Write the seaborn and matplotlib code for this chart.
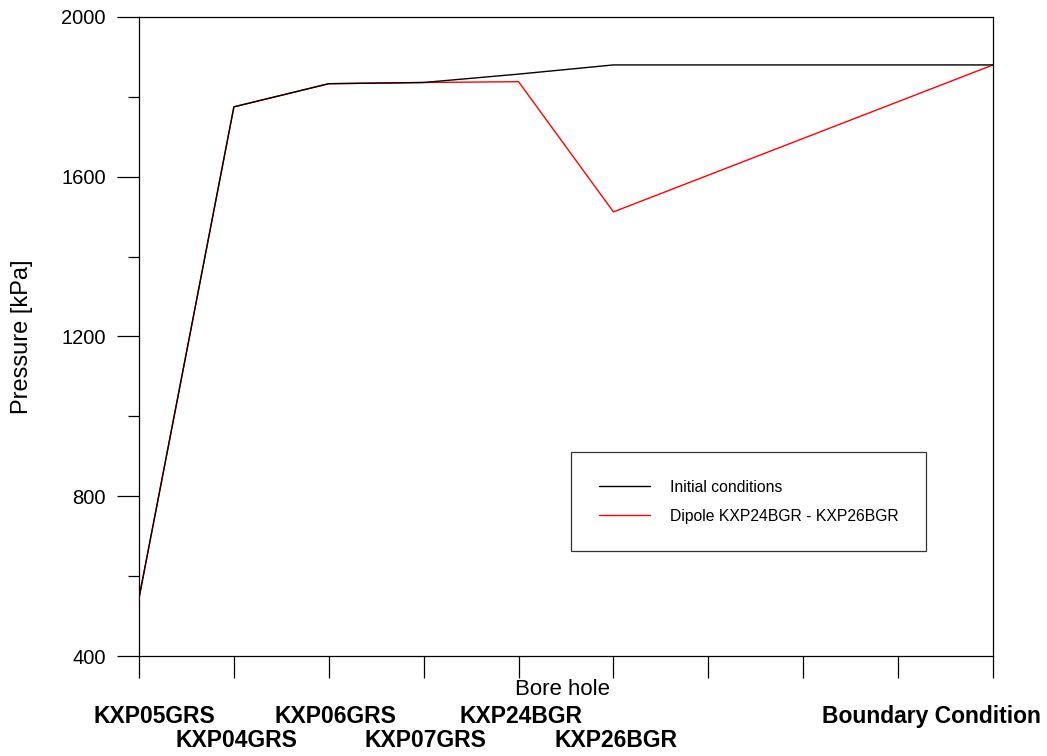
import matplotlib
matplotlib.use("Agg")
import matplotlib.pyplot as plt
from matplotlib.ticker import MultipleLocator
import numpy as np
import pandas as pd
import seaborn as sns

# Bore hole sequence (positions along the profile) and the labels shown under them
positions = [0, 1, 2, 3, 4, 5, 9]
boreholes = ["KXP05GRS", "KXP04GRS", "KXP06GRS", "KXP07GRS",
             "KXP24BGR", "KXP26BGR", "Boundary Condition"]

# Pressure [kPa] at each bore hole
initial_conditions = [545, 1775, 1833, 1836, 1857, 1880, 1880]
dipole = [545, 1775, 1833, 1836, 1838, 1512, 1880]

series_names = ["Initial conditions", "Dipole KXP24BGR - KXP26BGR"]

df = pd.DataFrame({
    "pos": positions * 2,
    "pressure": initial_conditions + dipole,
    "case": [series_names[0]] * len(positions) + [series_names[1]] * len(positions),
})

sns.set_style("white")
plt.rcParams["font.family"] = ["Liberation Sans", "DejaVu Sans"]
plt.rcParams["text.color"] = "black"
plt.rcParams["axes.labelcolor"] = "black"
plt.rcParams["xtick.color"] = "black"
plt.rcParams["ytick.color"] = "black"

fig = plt.figure(figsize=(10.47, 7.56), dpi=100)
ax = fig.add_axes([139 / 1047, 1 - 656 / 756, (993 - 139) / 1047, (656 - 17) / 756])

sns.lineplot(data=df, x="pos", y="pressure", hue="case", hue_order=series_names,
             palette=["#000000", "#ff0000"], sort=False, linewidth=1.0,
             estimator=None, ax=ax)

# keep the initial-condition curve on top where both coincide
ax.lines[0].set_zorder(4)
ax.lines[1].set_zorder(3)

ax.set_xlim(0, 9)
ax.set_ylim(400, 2000)
ax.set_xticks(np.arange(0, 10))
ax.set_xticklabels([])
ax.yaxis.set_major_locator(MultipleLocator(400))
ax.yaxis.set_minor_locator(MultipleLocator(200))

for side in ["left", "right", "top", "bottom"]:
    ax.spines[side].set_visible(True)
    ax.spines[side].set_color("black")
    ax.spines[side].set_linewidth(0.9)

ax.tick_params(axis="both", which="major", direction="out", length=16, width=0.9,
               color="black", bottom=True, left=True)
ax.tick_params(axis="y", which="minor", direction="out", length=8, width=0.9,
               color="black", left=True)
ax.tick_params(axis="y", which="major", labelsize=14.5, pad=8, labelcolor="black")

ax.set_ylabel("Pressure [kPa]", fontsize=17, color="black")
ax.yaxis.set_label_coords(-0.124, 0.5)
ax.set_xlabel("Bore hole", fontsize=16, color="black")
ax.xaxis.set_label_coords(0.496, -0.036)

# staggered bore hole names below the axis (offsets in points)
label_dx = [11, 2, 5, 1.5, 1.5, 2, -44]
label_row = [0, 1, 0, 1, 0, 1, 0]
row_dy = [-48.2, -65.5]
for pos, name, dx, row in zip(positions, boreholes, label_dx, label_row):
    ax.annotate(name, xy=(pos, 0), xycoords=ax.get_xaxis_transform(),
                xytext=(dx, row_dy[row]), textcoords="offset points",
                ha="center", va="baseline", fontsize=16.5, fontweight="bold",
                color="black", annotation_clip=False)

leg = ax.legend(loc="upper left", bbox_to_anchor=(0.506, 0.319), borderaxespad=0,
                fontsize=11.3, frameon=True, fancybox=False, edgecolor="black",
                borderpad=1.75, labelspacing=0.9, handlelength=3.3, handletextpad=1.25,
                title=None)
leg.get_frame().set_linewidth(0.9)
for text in leg.get_texts():
    text.set_color("black")
for line in leg.get_lines():
    line.set_linewidth(1.0)

fig.savefig("out.png", dpi=100)
